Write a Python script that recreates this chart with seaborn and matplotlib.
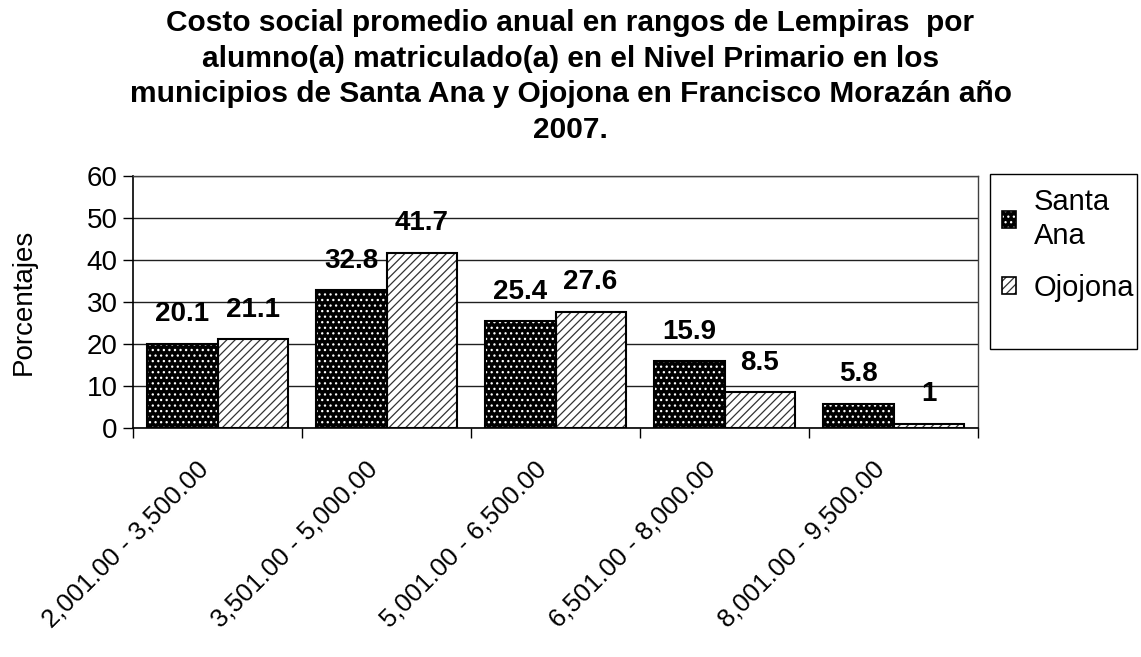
import matplotlib
matplotlib.use("Agg")
import matplotlib.pyplot as plt
import matplotlib.transforms as mtransforms
from matplotlib.patches import Rectangle, Patch
import pandas as pd
import seaborn as sns

rangos = ["2,001.00 - 3,500.00", "3,501.00 - 5,000.00", "5,001.00 - 6,500.00",
          "6,501.00 - 8,000.00", "8,001.00 - 9,500.00"]
santa_ana = [20.1, 32.8, 25.4, 15.9, 5.8]
ojojona = [21.1, 41.7, 27.6, 8.5, 1]
municipios = ["Santa Ana", "Ojojona"]

df = pd.DataFrame({
    "Rango": rangos * 2,
    "Porcentaje": santa_ana + ojojona,
    "Municipio": [municipios[0]] * len(rangos) + [municipios[1]] * len(rangos),
})

sns.set_style("white")
plt.rcParams["font.family"] = ["Liberation Sans", "DejaVu Sans"]
plt.rcParams["hatch.linewidth"] = 0.9
for k in ["text.color", "axes.labelcolor", "xtick.color", "ytick.color"]:
    plt.rcParams[k] = "black"

fig = plt.figure(figsize=(11.41, 6.57), dpi=100)
ax = fig.add_axes([133 / 1141, 1 - 428 / 657, (978 - 133) / 1141, (428 - 176) / 657])

sns.barplot(data=df, x="Rango", y="Porcentaje", hue="Municipio", ax=ax,
            palette=["black", "white"], width=0.83, legend=False, saturation=1)

# estilos: puntos blancos sobre negro, rayas diagonales sobre blanco
styles = [dict(fc="black", ec="white", hatch="..."),
          dict(fc="white", ec="#333333", hatch="////")]
for cont, st in zip(ax.containers, styles):
    for bar in cont:
        bar.set_facecolor(st["fc"])
        bar.set_edgecolor(st["ec"])
        bar.set_hatch(st["hatch"])
        bar.set_linewidth(0)
        ax.add_patch(Rectangle((bar.get_x(), bar.get_y()), bar.get_width(), bar.get_height(),
                               fill=False, ec="black", lw=1.5, zorder=3))
    ax.bar_label(cont, padding=12, fontsize=20, fontweight="bold")

ax.set_ylim(0, 60)
ax.set_yticks(range(0, 61, 10))
ax.set_xlim(-0.5, len(rangos) - 0.5)
ax.set_xticks(range(len(rangos)))
ax.set_xticklabels(rangos, rotation=45, ha="right", va="top", rotation_mode="anchor", fontsize=18.5)
ax.set_xticks([i - 0.5 for i in range(len(rangos) + 1)], minor=True)
ax.tick_params(axis="x", which="major", length=0, pad=14)
ax.tick_params(axis="x", which="minor", length=7, width=1, color="black", direction="out")
ax.tick_params(axis="y", length=7, width=1, color="black", direction="out", labelsize=20, pad=4)
ax.yaxis.set_ticks_position("left")
ax.xaxis.set_ticks_position("bottom")
# pequeño desplazamiento de las etiquetas giradas (después de tick_params)
shift = mtransforms.ScaledTranslation(-15 / 72, -6.5 / 72, fig.dpi_scale_trans)
for lab in ax.get_xticklabels():
    lab.set_transform(lab.get_transform() + shift)

ax.grid(axis="y", color="#202020", lw=1)
ax.set_axisbelow(True)
for side in ["left", "bottom"]:
    ax.spines[side].set_color("black")
    ax.spines[side].set_linewidth(1.2)
for side in ["top", "right"]:
    ax.spines[side].set_color("#404040")
    ax.spines[side].set_linewidth(1)

ax.set_xlabel("")
ax.set_ylabel("Porcentajes", fontsize=20, labelpad=36)

fig.suptitle("Costo social promedio anual en rangos de Lempiras  por\n"
             "alumno(a) matriculado(a) en el Nivel Primario en los\n"
             "municipios de Santa Ana y Ojojona en Francisco Morazán año\n"
             "2007.", fontsize=21.5, fontweight="bold", x=0.5, y=1 - 9 / 657, va="top",
             linespacing=1.35)

handles = [
    (Patch(fc="black", ec="white", hatch="...", lw=0), Patch(fill=False, ec="black", lw=1.2)),
    (Patch(fc="white", ec="#333333", hatch="////", lw=0), Patch(fill=False, ec="black", lw=1.2)),
]
leg = fig.legend(handles, ["Santa\nAna", "Ojojona"], loc="upper left",
                 bbox_to_anchor=(990 / 1141, 1 - 176 / 657), fontsize=21,
                 frameon=False, handlelength=0.5, handleheight=0.5, handletextpad=0.6,
                 borderpad=0.4, labelspacing=0.8, borderaxespad=0)
for t in leg.get_texts():
    t.set_linespacing(1.3)
fig.patches.append(Rectangle((990 / 1141, 1 - 349 / 657), 147 / 1141, 175 / 657,
                             transform=fig.transFigure, fill=False, ec="black", lw=1))

fig.savefig("out.png", dpi=100)
